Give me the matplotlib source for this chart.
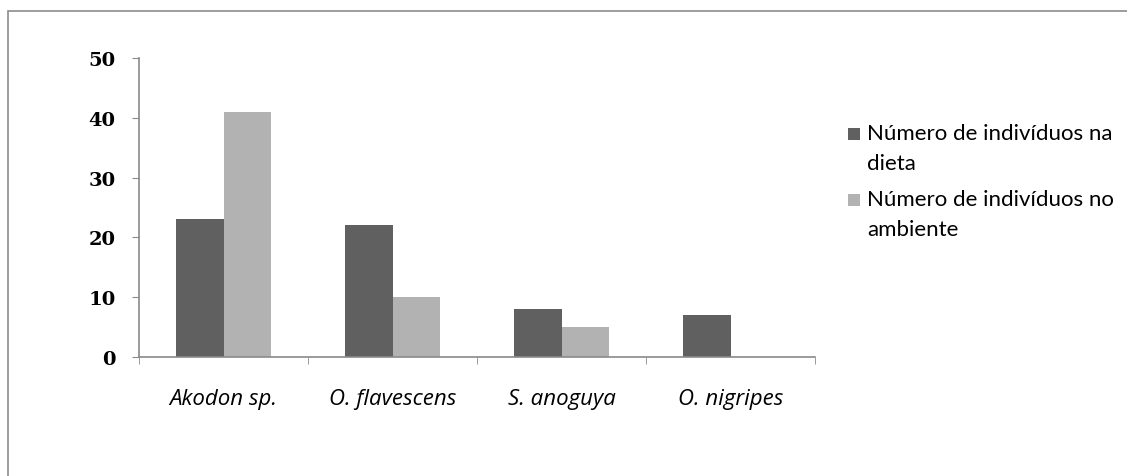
import matplotlib
matplotlib.use('Agg')
import matplotlib.pyplot as plt
from matplotlib.patches import Rectangle
from matplotlib.container import BarContainer
from matplotlib.legend_handler import HandlerPatch, update_from_first_child
import numpy as np

# dados
especies = ["Akodon sp.", "O. flavescens", "S. anoguya", "O. nigripes"]
dieta = [23, 22, 8, 7]
ambiente = [41, 10, 5, 0]
rotulos = ["Número de indivíduos na\ndieta", "Número de indivíduos no\nambiente"]
yticks = [0, 10, 20, 30, 40, 50]

cor_escura = "#606060"
cor_clara = "#b2b2b2"
cor_eixo = "#8a8a8a"

W, H = 1127, 477
fig = plt.figure(figsize=(W / 100, H / 100), dpi=100)
ax = fig.add_axes([139 / W, 1 - 358 / H, (815 - 139) / W, (358 - 59) / H])

x = np.arange(len(especies))
w = 0.284
ax.bar(x - w / 2, dieta, w, color=cor_escura, label=rotulos[0])
ax.bar(x + w / 2, ambiente, w, color=cor_clara, label=rotulos[1])

ax.set_xlim(-0.5, len(especies) - 0.5)
ax.set_ylim(0, 50)
ax.set_yticks(yticks)
ax.set_yticklabels([str(v) for v in yticks], family="DejaVu Serif",
                   fontweight="bold", fontsize=14)
ax.set_xticks(x)
ax.set_xticklabels(especies, family="Open Sans", style="italic", fontsize=16)
ax.set_xticks(np.arange(len(especies) + 1) - 0.5, minor=True)
ax.tick_params(axis="x", which="major", length=0, pad=22)
ax.tick_params(axis="x", which="minor", length=5, color=cor_eixo)
ax.tick_params(axis="y", length=5, color=cor_eixo, pad=12)

for s in ["top", "right"]:
    ax.spines[s].set_visible(False)
for s in ["left", "bottom"]:
    ax.spines[s].set_color(cor_eixo)
    ax.spines[s].set_linewidth(1.2)


# quadradinho da legenda alinhado com a primeira linha do texto
def quadrado(legend, orig_handle, xdescent, ydescent, width, height, fontsize):
    lado = width
    yc = 16.0  # pt acima da origem da caixa
    return Rectangle((-xdescent, yc - lado / 2), lado, lado)


leg = ax.legend(loc="upper left", bbox_to_anchor=(848 / W, 1 - 124 / H),
                bbox_transform=fig.transFigure, frameon=False,
                prop={"family": "Lato", "size": 16}, handlelength=0.54,
                handleheight=0.7, handletextpad=0.31, labelspacing=0.72,
                borderaxespad=0, borderpad=0,
                handler_map={BarContainer: HandlerPatch(
                    patch_func=quadrado, update_func=update_from_first_child)})
for t in leg.get_texts():
    t.set_linespacing(1.62)

# moldura da figura
fig.patches.append(Rectangle((8 / W, -0.1), 1.2, 1 - 12 / H + 0.1,
                             transform=fig.transFigure, fill=False,
                             edgecolor="#8c8c8c", linewidth=1.2))

fig.savefig("out.png", dpi=100)
